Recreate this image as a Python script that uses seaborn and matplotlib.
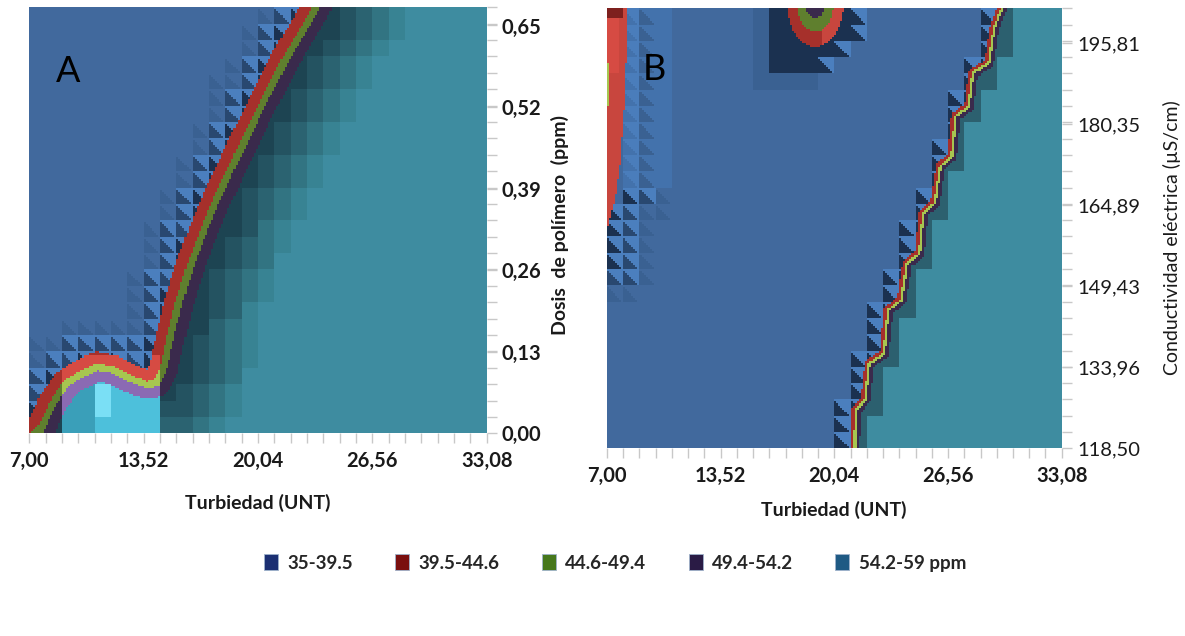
import numpy as np
import matplotlib
matplotlib.use('Agg')
import matplotlib.pyplot as plt
import seaborn as sns
from matplotlib.colors import ListedColormap
from matplotlib.path import Path
from matplotlib.patches import Patch

sns.set_theme(style='white')
plt.rcParams['font.family'] = ['Lato', 'DejaVu Sans']

# ---------------- axes ----------------
turb_ticks = [7.00, 13.52, 20.04, 26.56, 33.08]
dosis_ticks = [0.00, 0.13, 0.26, 0.39, 0.52, 0.65]
cond_ticks = [118.50, 133.96, 149.43, 164.89, 180.35, 195.81]
turb_range = (7.00, 33.08)
dosis_range = (0.00, 0.679)
cond_range = (118.50, 202.5)
n_cols = 28
rows_a = 26
rows_b = 27

# ---------------- legend ----------------
legend_labels = ['35-39.5', '39.5-44.6', '44.6-49.4', '49.4-54.2', '54.2-59 ppm']
legend_colors = ['#1B2F72', '#7A0F0F', '#46781C', '#2A1B45', '#1F5A84']

# ---------------- panel A: centre line of the 44.6-49.4 band ----------------
a_turb = [6.8, 7.3, 7.61, 8.37, 9.13, 9.89, 10.84, 11.79, 12.74, 13.69, 14.26, 14.64,
          15.1, 15.6, 16.2, 16.9, 17.7, 18.6, 20.2, 21.6, 23.4, 24.5]
a_dosis = [-0.03, 0.0, 0.005, 0.05, 0.08, 0.093, 0.106, 0.101, 0.088, 0.077, 0.080, 0.101,
           0.16, 0.215, 0.268, 0.321, 0.374, 0.427, 0.52, 0.596, 0.68, 0.75]

# ---------------- panel B ----------------
b_turb = [21.15, 21.19, 21.25, 21.8, 22.03, 22.9, 23.13, 23.9, 24.24, 24.9, 25.12, 25.79,
          26.12, 26.78, 27.0, 27.77, 28.0, 28.88, 29.2, 29.65, 29.9]
b_cond = [110.0, 118.5, 125.8, 127.7, 134.7, 136.6, 144.9, 146.8, 153.8, 155.7, 163.4, 165.3,
          172.3, 174.2, 181.8, 183.7, 190.1, 192.0, 199.0, 202.5, 210.0]
# right edge of the 39.5-44.6 zone along the left side
b_red_turb = [6.9, 7.0, 7.46, 7.75, 8.03, 8.22, 8.3]
b_red_cond = [155.0, 160.2, 165.9, 172.25, 185.0, 202.5, 210.0]
# small 39.5-54.2 pocket at the top
blob_turb, blob_cond = 18.95, 203.5
blob_half = (1.65, 8.3)

colors = {
    'blue': '#41699D', 'blue_lt': '#4B7FBE', 'blue_md': '#3A6192',
    'navy': '#1B3150', 'navy_md': '#294870', 'pale': '#4372AC', 'pale2': '#4A7DBB',
    'red': '#A6302B', 'red_lt': '#D64B43', 'red_dk': '#7D201E', 'red_b': '#C8463E',
    'green': '#5F7F2E', 'green_lt': '#A7C650',
    'purple': '#3A2A4C', 'purple_lt': '#8B6AB3',
    'teal0': '#1D4452', 'teal1': '#245361', 'teal2': '#2B6371', 'teal3': '#327482',
    'teal4': '#388393', 'teal': '#3E8CA0', 'teal_b': '#2C606F',
    'cyan_dk': '#3A9FB9', 'cyan': '#4DC0DB', 'cyan_lt': '#7ADFF5',
}
names = list(colors)
ix = {n: i for i, n in enumerate(names)}
cmap = ListedColormap([colors[n] for n in names])

K = 8


def make_grid(xr, yr, ncol, nrow):
    nx, ny = ncol * K, nrow * K
    fx = (np.arange(nx) + 0.5) / nx
    fy = (np.arange(ny) + 0.5) / ny
    cx = (np.arange(nx) // K + 0.5) / ncol
    cy = (np.arange(ny) // K + 0.5) / nrow
    X, Y = np.meshgrid(xr[0] + fx * (xr[1] - xr[0]), yr[0] + fy * (yr[1] - yr[0]))
    XC, YC = np.meshgrid(xr[0] + cx * (xr[1] - xr[0]), yr[0] + cy * (yr[1] - yr[0]))
    U, V = np.meshgrid((np.arange(nx) % K + 0.5) / K, (np.arange(ny) % K + 0.5) / K)
    return X, Y, XC, YC, V < 1 - U


def signed(x, y, lx, ly, closing, sx, sy):
    # pixel-space distance to the polyline, positive inside the closed region
    px, py = x.ravel() * sx, y.ravel() * sy
    lx, ly = np.asarray(lx) * sx, np.asarray(ly) * sy
    best = np.full(px.shape, np.inf)
    for i in range(len(lx) - 1):
        dx, dy = lx[i + 1] - lx[i], ly[i + 1] - ly[i]
        t = np.clip(((px - lx[i]) * dx + (py - ly[i]) * dy) / (dx * dx + dy * dy), 0, 1)
        best = np.minimum(best, np.hypot(px - lx[i] - t * dx, py - ly[i] - t * dy))
    poly = np.column_stack([np.r_[lx, np.array(closing)[:, 0] * sx],
                            np.r_[ly, np.array(closing)[:, 1] * sy]])
    inside = Path(poly).contains_points(np.column_stack([px, py]))
    return np.where(inside, best, -best).reshape(x.shape)


def paint_bands(M, d, R, G, P, light=None):
    red = (d >= -(G / 2 + R)) & (d < -G / 2)
    grn = np.abs(d) <= G / 2
    pur = (d > G / 2) & (d <= G / 2 + P)
    if light is None:
        light = np.zeros_like(d, dtype=bool)
    M[red] = np.where(light, ix['red_lt'], ix['red'])[red]
    M[grn] = np.where(light, ix['green_lt'], ix['green'])[grn]
    M[pur] = np.where(light, ix['purple_lt'], ix['purple'])[pur]


def blue_rings(M, mask, dc, LL, w, n=3):
    r1 = mask & (dc >= -w)
    M[r1] = np.where(LL, ix['navy'], ix['blue_lt'])[r1]
    if n > 1:
        r2 = mask & (dc < -w) & (dc >= -2 * w)
        M[r2] = np.where(LL, ix['navy_md'], ix['blue_lt'])[r2]
    if n > 2:
        r3 = mask & (dc < -2 * w) & (dc >= -3 * w)
        M[r3] = np.where(LL, ix['blue_md'], ix['blue'])[r3]


# ================= panel A =================
sxA = 457.4 / 26.08
syA = 426.0 / 0.679
X, Y, XC, YC, LL = make_grid(turb_range, dosis_range, n_cols, rows_a)
closeA = [[40, 0.8], [40, -0.1], [6.5, -0.1]]
d = signed(X, Y, a_turb, a_dosis, closeA, sxA, syA)
dc = signed(XC, YC, a_turb, a_dosis, closeA, sxA, syA)

A = np.full(X.shape, ix['blue'])
blue_rings(A, (d < 0) & (dc > -60), np.minimum(dc, -0.1), LL, 17)

teal_side = d > 0
levels = np.array([ix['teal0'], ix['teal1'], ix['teal2'], ix['teal3'], ix['teal4'], ix['teal']])
lvl = levels[np.clip(((np.maximum(dc, 0) - 14) // 14).astype(int), 0, 5)]
A[teal_side] = lvl[teal_side]
bump = teal_side & (XC < 14.8) & (YC < 0.115)
cyan = np.where(XC < 9.0, ix['teal0'],
       np.where(XC < 10.9, ix['cyan_dk'],
       np.where((XC < 11.8) & (YC > 0.02) & (YC < 0.08), ix['cyan_lt'], ix['cyan'])))
A[bump] = cyan[bump]
paint_bands(A, d, 11, 7, 11, light=(X > 8.9) & (X < 14.4) & (Y < 0.125))

# ================= panel B =================
sxB = 454.7 / 26.08
syB = 440.0 / 84.0
X, Y, XC, YC, LL = make_grid(turb_range, cond_range, n_cols, rows_b)
closeB = [[40, 210], [40, 110]]
d = signed(X, Y, b_turb, b_cond, closeB, sxB, syB)
dc = signed(XC, YC, b_turb, b_cond, closeB, sxB, syB)
closeR = [[0, 210], [0, 155]]
dl = signed(X, Y, b_red_turb, b_red_cond, closeR, sxB, syB)
dlc = signed(XC, YC, b_red_turb, b_red_cond, closeR, sxB, syB)

B = np.full(X.shape, ix['blue'])
# left side shading next to the 39.5-44.6 zone
upper = YC > 168
m1 = (dlc < 0) & (dlc >= -18)
m2 = (dlc < -18) & (dlc >= -34)
m3 = (dlc < -34) & (dlc >= -50)
B[m1 & upper] = np.where(LL, ix['pale'], ix['pale2'])[m1 & upper]
B[m2 & upper] = np.where(LL, ix['blue_md'], ix['pale'])[m2 & upper]
B[m3 & upper] = ix['pale']
blue_rings(B, ~upper & (dlc < 0) & (dlc > -54), dlc, LL, 17)

# dark pocket at the top
edge = 18.7 + (YC - 190.4) * (3.1 / 12.1)
block = (XC > 16.3) & (XC < edge) & (YC > 190.4)
stair = (XC >= edge) & (XC < edge + 0.93) & (YC > 190.4)
faint = (((XC > 15.4) & (XC < 16.3) & (YC > 186.9)) |
         ((YC > 186.9) & (YC < 190.4) & (XC > 15.4) & (XC < 18.7)))
B[faint] = ix['blue_md']
B[block] = ix['navy']
B[stair] = np.where(LL, ix['navy'], ix['blue_lt'])[stair]

blue_rings(B, (d < 0) & (dc > -20), np.minimum(dc, -0.1), LL, 14, n=1)
B[d > 0] = np.where(dc < 16, ix['teal_b'], ix['teal'])[d > 0]

# left zone
B[dl > 0] = ix['red_b']
B[(dl > 0) & (Y > 190) & (X < 7.7)] = ix['red_lt']
B[(X < 7.9) & (Y > 200.5)] = ix['red_dk']
B[(X < 7.1) & (Y > 184) & (Y < 192)] = ix['green_lt']

# pocket bands
r = np.hypot((X - blob_turb) / blob_half[0], (Y - blob_cond) / blob_half[1])
B[r < 1.0] = ix['red']
B[(r < 1.0) & (X > 19.3)] = ix['red_b']
B[r < 0.65] = ix['green']
B[r < 0.35] = ix['purple']

B[(d >= -4.5) & (d < -1.25)] = ix['red']
B[(d > -1.25) & (d < 1.25)] = ix['green_lt']
B[(d > 1.25) & (d <= 5)] = ix['purple']

# ================= figure =================
fig = plt.figure(figsize=(11.85, 6.36), dpi=100)
axA = fig.add_axes([29.3 / 1185, 1 - 433.3 / 636, 457.4 / 1185, 426.0 / 636])
axB = fig.add_axes([607.0 / 1185, 1 - 448.3 / 636, 454.7 / 1185, 440.0 / 636])


def fmt(v):
    return f'{v:.2f}'.replace('.', ',')


def draw(ax, M, yticks, yr, ytick_weight):
    sns.heatmap(M[::-1], ax=ax, cmap=cmap, vmin=-0.5, vmax=len(names) - 0.5,
                cbar=False, xticklabels=False, yticklabels=False, rasterized=True)
    ny, nx = M.shape
    ax.set_xticks([(t - turb_range[0]) / (turb_range[1] - turb_range[0]) * nx for t in turb_ticks])
    ax.set_xticklabels([fmt(t) for t in turb_ticks], rotation=0, fontsize=14.5,
                       fontweight='bold', color='#1A1A1A')
    ax.set_xticks(np.arange(0, nx + 1, K), minor=True)
    ax.set_yticks([(yr[1] - t) / (yr[1] - yr[0]) * ny for t in yticks])
    ax.set_yticklabels([fmt(t) for t in yticks], rotation=0, fontsize=14.5,
                       fontweight=ytick_weight, color='#1A1A1A')
    ax.set_yticks(np.arange(0, ny + 1, K), minor=True)
    ax.yaxis.tick_right()
    ax.tick_params(axis='x', which='both', bottom=True, top=False, length=7,
                   color='#C8C8C8', width=1, direction='out', pad=6)
    ax.tick_params(axis='y', which='both', right=True, left=False, labelright=True,
                   labelleft=False, length=7, color='#C8C8C8', width=1, direction='out', pad=4)
    ax.set_xlim(0, nx)
    ax.set_ylim(ny, 0)


draw(axA, A, dosis_ticks, dosis_range, 'bold')
draw(axB, B, cond_ticks, cond_range, 'normal')

axA.text(0.085, 0.85, 'A', transform=axA.transAxes, fontsize=26, color='black',
         ha='center', va='center')
axB.text(0.105, 0.86, 'B', transform=axB.transAxes, fontsize=26, color='black',
         ha='center', va='center')

fig.text(258 / 1185, 1 - 503 / 636, 'Turbiedad (UNT)', ha='center', va='center',
         fontsize=14, fontweight='bold', color='#1A1A1A')
fig.text(834 / 1185, 1 - 510 / 636, 'Turbiedad (UNT)', ha='center', va='center',
         fontsize=14, fontweight='bold', color='#1A1A1A')
fig.text(560 / 1185, 1 - 225 / 636, 'Dosis  de polímero  (ppm)', rotation=90,
         ha='center', va='center', fontsize=14, fontweight='bold', color='#1A1A1A')
fig.text(1172 / 1185, 1 - 238 / 636, 'Conductividad eléctrica (µS/cm)', rotation=90,
         ha='center', va='center', fontsize=14, color='#1A1A1A')

handles = [Patch(facecolor=c, edgecolor='#9FB3CC', linewidth=0.6) for c in legend_colors]
fig.legend(handles, legend_labels, loc='center', bbox_to_anchor=(615 / 1185, 1 - 563 / 636),
           ncol=5, frameon=False, handlelength=0.75, handleheight=0.9, handletextpad=0.5,
           columnspacing=2.25, prop={'weight': 'bold', 'size': 13.5})

fig.savefig('out.png', dpi=100, facecolor='white')
